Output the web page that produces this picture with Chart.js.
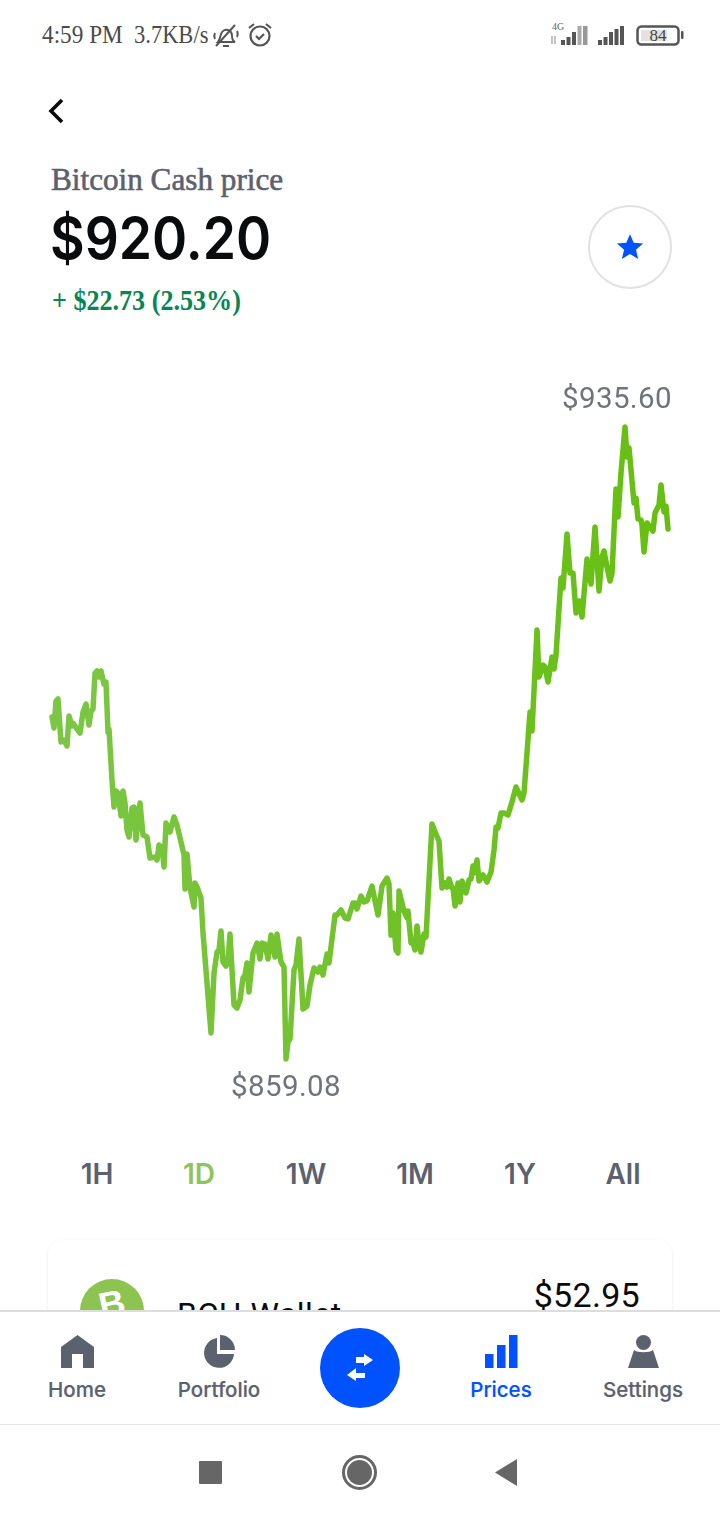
<!DOCTYPE html>
<html>
<head>
<meta charset="utf-8">
<title>Bitcoin Cash price</title>
<script src="https://cdn.jsdelivr.net/npm/chart.js@4"></script>
<style>
  html, body { margin: 0; padding: 0; background: #fff; }
  #page { position: relative; width: 720px; height: 1520px; overflow: hidden; font-family: Inter, sans-serif; }
  #page div, #page svg { position: absolute; white-space: nowrap; }
  #chartWrap { left: 0; top: 400px; width: 720px; height: 680px; }
  .serif { font-family: "Liberation Serif", serif; }
  .range { top: 1158px; width: 80px; text-align: center; font-size: 28px; font-weight: 600; line-height: 32px; color: #5b616e; }
  .navLabel { top: 1377px; width: 120px; text-align: center; font-size: 20.5px; font-weight: 500; line-height: 26px; color: #5b616e; -webkit-text-stroke: .2px; }
  .extreme { font-family: Roboto, sans-serif; font-size: 29.5px; line-height: 34px; color: #6f737c; letter-spacing: .4px; }
</style>
</head>
<body>
<div id="page">
  <div class="serif" style="left:42px;top:21px;font-size:25px;line-height:28px;color:#4a4a4a;transform:scaleX(.93);transform-origin:left">4:59 PM</div>
  <div class="serif" style="left:134px;top:21px;font-size:25px;line-height:28px;color:#4a4a4a;transform:scaleX(.9);transform-origin:left">3.7KB/s</div>
  <svg style="left:212px;top:22px" width="28" height="28" viewBox="0 0 28 28" fill="none" stroke="#555" stroke-width="2">
    <path d="M6 20c2-2 2-5 3-8s4-5 7-4 4 3 4 6 1 5 3 6z"/><path d="M11 24h6"/><path d="M4 24L23 3"/><path d="M3 11c-1 2-1 4 0 6M25 9c1 2 1 4 0 6"/>
  </svg>
  <svg style="left:247px;top:21px" width="26" height="28" viewBox="0 0 26 28" fill="none" stroke="#555" stroke-width="2.2">
    <circle cx="13" cy="15" r="9.5"/><path d="M9 15l3 3 5-5"/><path d="M2 7l5-4M24 7l-5-4"/>
  </svg>
  <svg style="left:550px;top:22px" width="135" height="26" viewBox="0 0 135 26">
    <text x="2" y="8" font-size="10" font-family="Liberation Serif" fill="#666">4G</text>
    <path d="M2 14v8M5 14v8" stroke="#888" stroke-width="1"/>
    <g fill="#555">
      <rect x="11" y="18" width="4" height="5"/><rect x="16.500" y="15" width="4" height="8"/><rect x="22" y="10" width="4" height="13"/>
      <rect x="27.500" y="4" width="4" height="19" fill="#aaa"/><rect x="33" y="4" width="4.500" height="19" fill="#999"/>
      <rect x="48" y="18" width="4" height="5"/><rect x="53.500" y="15" width="4" height="8"/><rect x="59" y="10" width="4" height="13"/>
      <rect x="64.500" y="7" width="4" height="16"/><rect x="70" y="4" width="4" height="19"/>
      <rect x="131" y="9" width="2.500" height="8" rx="1"/>
    </g>
    <rect x="87.500" y="4.500" width="41" height="18" rx="4" fill="none" stroke="#555" stroke-width="2.500"/>
    <rect x="91" y="8" width="26" height="11" fill="#e2e2e2"/>
    <text x="108" y="19" text-anchor="middle" font-size="17" font-family="Liberation Serif" fill="#444">84</text>
  </svg>

  <svg style="left:44px;top:94px" width="24" height="34" viewBox="0 0 24 34" fill="none" stroke="#0a0b0d" stroke-width="3.6">
    <path d="M18 6L7 17l11 11"/>
  </svg>

  <div class="serif" style="left:51px;top:162px;font-size:31.200px;line-height:36px;color:#5b616e;font-weight:400;-webkit-text-stroke:.6px #5b616e">Bitcoin Cash price</div>
  <div style="left:50px;top:204px;font-family:Inter,sans-serif;font-size:58px;line-height:68px;font-weight:600;color:#0a0b0d;transform:scaleX(.92);transform-origin:left">$920.20</div>
  <div class="serif" style="left:52px;top:283px;font-size:29px;line-height:34px;font-weight:700;color:#098551;transform:scaleX(.9);transform-origin:left">+ $22.73 (2.53%)</div>

  <div style="left:588px;top:205px;width:80px;height:80px;border:2px solid #e2e2e2;border-radius:50%"></div>
  <svg style="left:616px;top:233px" width="28" height="28" viewBox="0 0 24 24"><path fill="#0052ff" d="M12 1l3.200 7.400 8 .7-6.100 5.300 1.900 7.900-7-4.200-7 4.200 1.900-7.900L.8 9.100l8-.7z"/></svg>

  <div id="chartWrap"><canvas id="priceChart" width="720" height="680"></canvas></div>
  <div class="extreme" id="maxLabel" style="right:48px;top:381px"></div>
  <div class="extreme" id="minLabel" style="left:231px;top:1069px"></div>

  <div class="range" style="left:57px">1H</div>
  <div class="range" style="left:159px;color:#8dc45b">1D</div>
  <div class="range" style="left:266px">1W</div>
  <div class="range" style="left:375px">1M</div>
  <div class="range" style="left:480px">1Y</div>
  <div class="range" style="left:583px">All</div>

  <div style="left:48px;top:1240px;width:624px;height:120px;border-radius:14px;box-shadow:0 1px 3px rgba(0,0,0,.10);background:#fff"></div>
  <div style="left:80px;top:1279px;width:64px;height:64px;border-radius:50%;background:#8dc351;color:#fff;font:700 36px/50px 'Liberation Sans',sans-serif;text-align:center"><span style="display:inline-block;transform:rotate(-12deg)">B</span></div>
  <div style="left:177px;top:1296px;font-family:Roboto,sans-serif;font-size:32px;line-height:36px;color:#0a0b0d;letter-spacing:.5px">BCH Wallet</div>
  <div style="right:80px;top:1276px;font-family:Roboto,sans-serif;font-size:34px;line-height:38px;color:#0a0b0d;letter-spacing:.3px">$52.95</div>

  <div style="left:0;top:1310px;width:720px;height:114px;background:#fff;border-top:2px solid #ddd;box-sizing:border-box"></div>
  <div style="left:0;top:1424px;width:720px;height:96px;background:#fff;border-top:1.500px solid #e6e6e6;box-sizing:border-box"></div>

  <svg style="left:61px;top:1335px" width="33" height="33" viewBox="0 0 33 33"><path fill="#5b616e" d="M16.500 0L33 12v21H22V19H11v14H0V12z"/></svg>
  <svg style="left:202px;top:1335px" width="34" height="33" viewBox="0 0 34 33"><path fill="#5b616e" d="M15 3a15 15 0 1 0 17 16H15z"/><path fill="#5b616e" d="M18 0a15 15 0 0 1 15 15H18z"/></svg>
  <div style="left:320px;top:1328px;width:80px;height:80px;border-radius:50%;background:#0052ff"></div>
  <svg style="left:344px;top:1352px" width="32" height="32" viewBox="0 0 32 32" fill="#fff"><path d="M12 5h8V2l9 6-9 6v-3h-8zM21 21h-9v-5l-9 7 9 6v-3h9z"/></svg>
  <svg style="left:485px;top:1335px" width="33" height="33" viewBox="0 0 33 33" fill="#0052ff"><rect x="0" y="19" width="8.500" height="14"/><rect x="12" y="10" width="8.500" height="23"/><rect x="24" y="0" width="8.500" height="33"/></svg>
  <svg style="left:627px;top:1335px" width="33" height="33" viewBox="0 0 33 33" fill="#5b616e"><circle cx="16.500" cy="7.500" r="7.500"/><path d="M7 15c3 3 16 3 19 0l6 18H1z"/></svg>

  <div class="navLabel" style="left:17px">Home</div>
  <div class="navLabel" style="left:159px">Portfolio</div>
  <div class="navLabel" style="left:441px;color:#0052ff">Prices</div>
  <div class="navLabel" style="left:583px">Settings</div>

  <div style="left:199px;top:1461px;width:23px;height:23px;background:#666;border-radius:1px"></div>
  <div style="left:342px;top:1455px;width:29px;height:29px;border:3px solid #666;border-radius:50%"></div>
  <div style="left:347px;top:1460px;width:25px;height:25px;background:#666;border-radius:50%"></div>
  <svg style="left:494px;top:1459px" width="24" height="28" viewBox="0 0 24 28"><path fill="#666" d="M23 0v27L1 13.500z"/></svg>
</div>

<script>
// sample position along the 1D window
var sampleIndex = [
  0,2,4,6,9,12,15,17,20,21,25,28,31,34,37,39,41,43,45,47,49,52,54,56,57,60,62,64,66,69,
  71,73,75,77,80,82,84,88,91,95,98,103,105,107,110,112,114,118,122,125,132,133,135,138,142,143,145,149,151,159,
  162,165,167,169,171,174,176,178,182,185,188,191,193,195,197,201,205,208,210,213,216,219,223,225,229,232,234,236,238,242,
  244,247,251,255,258,262,266,268,271,275,277,283,285,289,293,296,301,303,305,309,312,315,320,326,330,335,337,339,341,344,
  346,347,352,355,356,359,361,363,365,367,369,372,374,380,386,387,390,393,395,397,400,401,403,406,408,410,414,417,419,421,
  422,425,427,431,435,439,442,444,446,449,452,456,460,461,464,470,472,475,478,480,485,487,491,493,496,500,502,504,509,511,
  515,518,521,524,527,530,535,539,543,547,550,552,555,558,560,564,566,569,573,575,577,582,584,586,589,590,592,595,598,601,
  603,607,609,612,614,616
];
var prices = [
  900.49,899.15,902.42,902.67,897.46,897.70,896.98,900.61,899.40,899.76,899.03,898.55,901.09,902.06,899.52,901.21,901.46,905.81,906.06,905.33,906.06,904.48,904.72,898.67,899.03,892.86,889.59,891.53,891.28,888.50,
  891.53,890.07,886.80,885.96,889.47,889.59,885.59,890.07,886.20,885.96,883.41,883.54,883.17,884.99,884.63,882.32,887.65,886.56,888.38,887.41,883.78,879.66,883.90,879.78,877.48,880.39,879.90,878.57,874.33,862.23,
  869.49,872.03,872.28,874.58,870.82,870.34,871.06,874.21,865.62,865.25,866.22,868.89,869.25,870.70,867.19,871.91,873.12,871.19,873.12,873.00,871.19,874.09,871.43,874.21,870.82,870.22,859.08,861.14,861.50,869.85,
  870.46,873.61,865.13,865.49,868.04,870.10,869.61,870.22,869.25,871.79,870.70,876.51,876.51,877.12,876.15,876.03,877.97,877.97,877.24,878.81,878.09,878.21,880.02,876.51,880.02,880.99,880.27,874.09,876.76,872.28,
  871.91,879.42,877.00,876.15,877.00,873.12,873.12,872.28,875.18,873.12,872.03,874.21,873.85,887.53,885.72,885.47,879.78,880.39,879.90,880.87,879.78,879.78,877.60,880.39,878.09,880.63,879.18,880.75,880.87,882.45,
  881.60,883.17,880.63,881.36,880.51,881.72,884.38,887.17,887.05,888.86,888.86,888.62,890.19,890.68,892.01,890.44,891.28,896.13,901.09,898.79,911.02,905.33,906.78,906.54,904.72,907.75,906.30,907.99,917.32,916.11,
  922.64,917.92,917.92,913.08,914.53,912.59,919.62,916.59,923.49,915.74,919.86,920.59,918.65,916.95,917.92,928.09,924.70,930.03,935.60,931.97,933.06,926.40,927.00,924.46,924.34,923.73,920.46,923.98,923.49,923.01,
  925.19,926.16,928.58,925.31,926.03,923.25
];
var lastSample = 616;

var points = [];
for (var i = 0; i < sampleIndex.length; i++) {
  points.push({ x: sampleIndex[i], y: prices[i] });
}
var priceMax = Math.max.apply(null, prices);
var priceMin = Math.min.apply(null, prices);

document.getElementById('maxLabel').textContent = '$' + priceMax.toFixed(2);
document.getElementById('minLabel').textContent = '$' + priceMin.toFixed(2);

var ctx = document.getElementById('priceChart').getContext('2d');
var lineFade = ctx.createLinearGradient(52, 0, 668, 0);
lineFade.addColorStop(0, '#7cc645');
lineFade.addColorStop(0.5, '#72c22c');
lineFade.addColorStop(1, '#66bf10');

new Chart(ctx, {
  type: 'line',
  data: {
    datasets: [{
      label: 'Bitcoin Cash',
      data: points,
      borderColor: lineFade,
      borderWidth: 5.5,
      borderJoinStyle: 'round',
      borderCapStyle: 'round',
      pointRadius: 0,
      tension: 0,
      fill: false,
      clip: false
    }]
  },
  options: {
    responsive: false,
    animation: false,
    layout: { padding: { left: 52, right: 52, top: 27, bottom: 21 } },
    plugins: { legend: { display: false }, tooltip: { enabled: false } },
    scales: {
      x: { type: 'linear', display: false, min: 0, max: lastSample },
      y: { display: false, min: priceMin, max: priceMax }
    }
  }
});
</script>
</body>
</html>
